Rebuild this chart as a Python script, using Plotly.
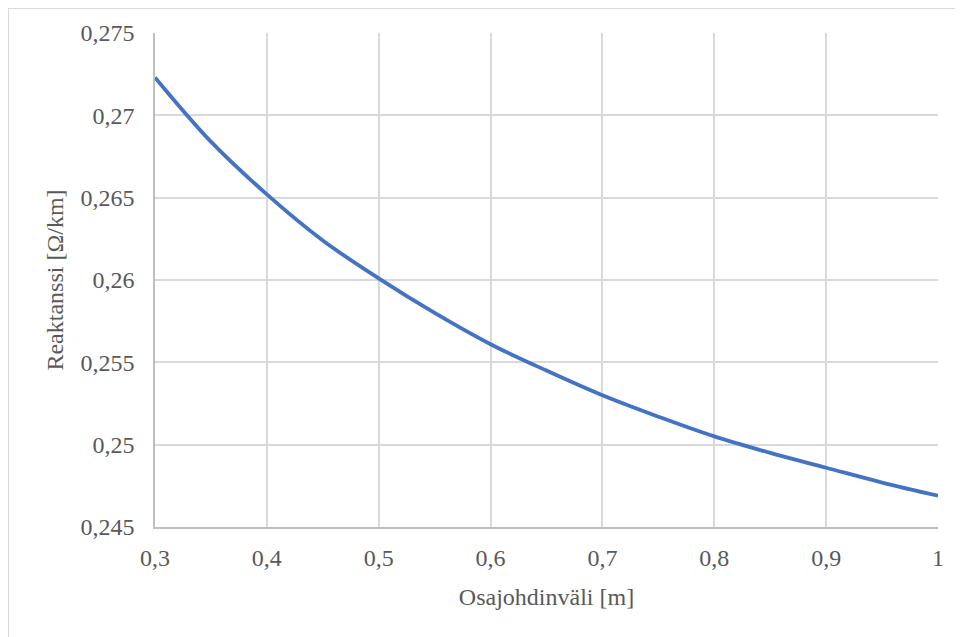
import plotly.graph_objects as go

# Data
spacing_m = [0.30, 0.35, 0.40, 0.45, 0.50, 0.55, 0.60, 0.65, 0.70, 0.75, 0.80, 0.85, 0.90, 0.95, 1.00]
reactance = [0.2723, 0.2684, 0.2652, 0.2624, 0.2601, 0.2580, 0.2561, 0.2545, 0.2530, 0.2517, 0.2505, 0.2495, 0.2486, 0.2477, 0.2469]

x_tickvals = [0.3, 0.4, 0.5, 0.6, 0.7, 0.8, 0.9, 1.0]
x_ticktext = ["0,3", "0,4", "0,5", "0,6", "0,7", "0,8", "0,9", "1"]
y_tickvals = [0.245, 0.25, 0.255, 0.26, 0.265, 0.27, 0.275]
y_ticktext = ["0,245", "0,25", "0,255", "0,26", "0,265", "0,27", "0,275"]

x_title = "Osajohdinväli [m]"
y_title = "Reaktanssi [Ω/km]"

# page body has an 8px margin; figure sized to fill the rest of the window
W, H = 955, 629
L, R, T, B = 147, 25, 25, 110
pw, ph = W - L - R, H - T - B

font_family = "Liberation Serif, Times New Roman, serif"
text_color = "#595959"
fs = 24

fig = go.Figure()
fig.add_trace(go.Scatter(
    x=spacing_m, y=reactance, mode="lines",
    line=dict(color="#4472C4", width=3.8, shape="spline", smoothing=1.0),
    hoverinfo="x+y", showlegend=False,
))

fig.update_layout(
    width=W, height=H,
    margin=dict(l=L, r=R, t=T, b=B, pad=0),
    paper_bgcolor="white", plot_bgcolor="white",
    font=dict(family=font_family, color=text_color, size=fs),
    xaxis=dict(
        range=[0.3, 1.0], tickvals=x_tickvals, ticktext=x_ticktext,
        showgrid=True, gridcolor="#D9D9D9", gridwidth=1.5,
        showline=True, linecolor="#BFBFBF", linewidth=1.5,
        zeroline=False, ticks="", ticklabelstandoff=8,
        title=dict(text=x_title, font=dict(size=fs, color=text_color), standoff=19),
    ),
    yaxis=dict(
        range=[0.245, 0.275], tickvals=y_tickvals, ticktext=y_ticktext,
        showgrid=True, gridcolor="#D9D9D9", gridwidth=1.5,
        showline=True, linecolor="#BFBFBF", linewidth=1.5,
        zeroline=False, ticks="", ticklabelstandoff=14,
        title=dict(text=y_title, font=dict(size=fs, color=text_color), standoff=10),
    ),
    shapes=[dict(
        type="rect", xref="paper", yref="paper",
        x0=(0.5 - L) / pw, x1=(980 - L) / pw,
        y0=1 - (660 - T) / ph, y1=1 - (0.5 - T) / ph,
        line=dict(color="#D9D9D9", width=1.2), fillcolor="rgba(0,0,0,0)", layer="below",
    )],
)

fig.write_html("out.html")
